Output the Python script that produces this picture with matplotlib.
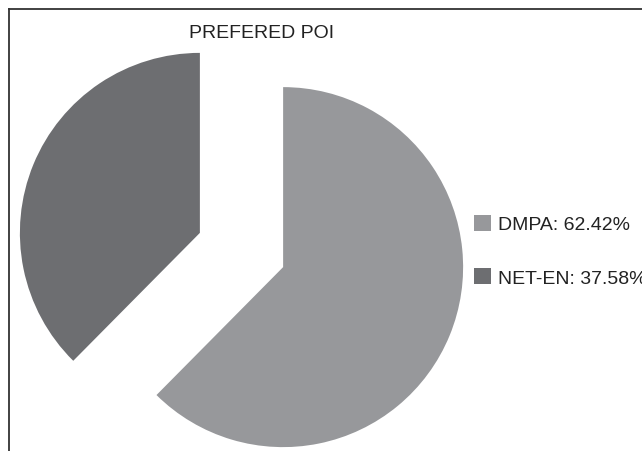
import matplotlib.pyplot as plt
from matplotlib.patches import Patch
from matplotlib.lines import Line2D

plt.rcParams["font.family"] = ["Liberation Sans", "DejaVu Sans"]

labels = ["DMPA", "NET-EN"]
shares = [62.42, 37.58]
colors = ["#97989b", "#6d6e71"]
title = "PREFERED POI"

W, H = 642, 452
R = 180
fig = plt.figure(figsize=(W / 100, H / 100), dpi=100)
fig.patch.set_facecolor("white")
ax = fig.add_axes([0, 0, 1, 1])

# pie explode offset is in data units here (pixels), not fractions of radius
ax.pie(shares, colors=colors, startangle=90, counterclock=False,
       explode=[0.25 * R, 0.25 * R], center=(241.5, 201), radius=R,
       wedgeprops=dict(linewidth=0), frame=False)
ax.set_xlim(0, W)
ax.set_ylim(0, H)
ax.set_aspect("equal")
ax.axis("off")

# frame (only top and left edges visible in the crop)
fig.add_artist(Line2D([9 / W, 9 / W], [0, 1 - 10 / H], color="#333333", lw=1.3,
                      transform=fig.transFigure))
fig.add_artist(Line2D([9 / W, 1], [1 - 10 / H, 1 - 10 / H], color="#333333", lw=1.3,
                      transform=fig.transFigure))

fig.text(262 / W, 1 - 34 / H, title, ha="center", va="center", fontsize=14, color="#222222")

handles = [Patch(facecolor=c, edgecolor="none") for c in colors]
legend_labels = [f"{l}: {s:.2f}%" for l, s in zip(labels, shares)]
fig.legend(handles, legend_labels, loc="upper left", bbox_to_anchor=(474 / W, 1 - 216 / H),
           frameon=False, fontsize=14, handlelength=0.85, handleheight=0.85,
           handletextpad=0.4, labelspacing=1.8, borderpad=0, borderaxespad=0,
           labelcolor="#222222")

fig.savefig("out.png", dpi=100, facecolor="white")
